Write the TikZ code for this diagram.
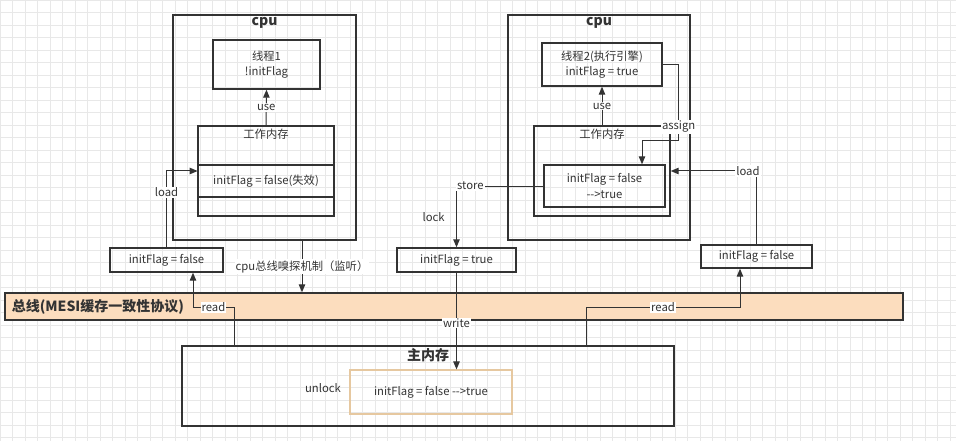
\documentclass[tikz,border=0pt]{standalone}
\usepackage{fontspec}
\setmainfont{Noto Sans CJK SC}
\usetikzlibrary{arrows.meta}
\definecolor{busfill}{HTML}{FCDDBE}
\definecolor{linegray}{HTML}{333333}
\definecolor{selborder}{HTML}{E6C8A0}

\begin{document}
\begin{tikzpicture}[x=1pt,y=-1pt,font=\fontsize{11.3}{15.5}\selectfont,text=linegray]

	\tikzstyle{box}=[draw=linegray,line width=1.4pt,rectangle,inner sep=2pt,align=center]
	\tikzstyle{lbl}=[fill=white,inner sep=1pt]
	\tikzstyle{link}=[draw=linegray,line width=1pt,-{Triangle[length=8pt,width=6.5pt]}]
	\tikzstyle{title}=[font=\fontsize{14}{16}\selectfont\bfseries]

	\useasboundingbox (0,0) rectangle (956,441);
	\fill[white] (0,0) rectangle (956,441);
	\draw[gray!18,line width=0.3pt,step=12.5pt] (0,0) grid (956,441);

	% cpu 1
	\node[box,minimum width=183pt,minimum height=225pt] (cpuL) at (264.5,127.5) {};
	\node[title,below] (cpuLtitle) at (cpuL.north) {cpu};
	\node[box,minimum width=107pt,minimum height=49pt] (thr1) at (266.5,64.5) {线程1\\!initFlag};
	\node[box,minimum width=136pt,minimum height=90pt] (wmL) at (266,171) {};
	\node[below] (wmLtitle) at (wmL.north) {工作内存};
	\node[box,line width=1.8pt,minimum width=135pt,minimum height=32pt] (vL) at (266,181) {initFlag = false(失效)};
	\node[box,minimum width=113pt,minimum height=24pt] (cacheL) at (166.5,260) {initFlag = false};

	% cpu 2
	\node[box,minimum width=182pt,minimum height=225pt] (cpuR) at (599,127.5) {};
	\node[title,below] (cpuRtitle) at (cpuR.north) {cpu};
	\node[box,minimum width=120pt,minimum height=43pt] (thr2) at (602,64.5) {线程2(执行引擎)\\initFlag = true};
	\node[box,minimum width=136pt,minimum height=90pt] (wmR) at (602,171) {};
	\node[below] (wmRtitle) at (wmR.north) {工作内存};
	\node[box,minimum width=121pt,minimum height=42pt] (vR) at (604.5,186) {initFlag = false\\-{}->true};
	\node[box,minimum width=119pt,minimum height=24pt] (cacheM) at (456.5,260) {initFlag = true};
	\node[box,minimum width=111pt,minimum height=23pt] (cacheR) at (756.5,256.5) {initFlag = false};

	% bus
	\node[box,fill=busfill,minimum width=898pt,minimum height=27pt] (bus) at (454,306.5) {};
	\node[title,anchor=west] (busTitle) at ([xshift=4pt]bus.west) {总线(MESI缓存一致性协议)};

	% main memory
	\node[box,minimum width=492pt,minimum height=80pt] (mem) at (428,386) {};
	\node[title,below] (memTitle) at (mem.north) {主内存};
	\node[box,draw=selborder,line width=1.2pt,minimum width=162pt,minimum height=44pt] (memV) at (431,392) {initFlag = false -{}->true};
	\node (unlock) at (323,388) {unlock};

	\draw[link] (wmL.north) -- (thr1.south) node[lbl,midway] {use};
	\draw[link] (wmR.north) -- (thr2.south) node[lbl,midway] {use};
	\draw[link] (cacheL.north) |- ([yshift=10pt]vL.west) node[lbl,pos=0.36] {load};
	\draw[link] ([xshift=37.5pt]cpuL.south) -- ([xshift=37.5pt]cpuL.south |- bus.north) node[lbl,midway] {cpu总线嗅探机制（监听）};
	\draw[link] ([xshift=-194pt]mem.north) -- ++(0,-38) -| ([xshift=26.5pt]cacheL.south) node[lbl,pos=0.25] {read};
	\draw[link] ([xshift=158pt]mem.north) -- ++(0,-38) -| ([xshift=-16.5pt]cacheR.south) node[lbl,pos=0.25] {read};
	\draw[link] (vR.west) -| (cacheM.north) node[lbl,pos=0.42] {store} node[pos=0.75,left=8pt] {lock};
	\draw[link] (cacheM.south) -- (cacheM.south |- memV.north) node[lbl,pos=0.52] {write};
	\draw[link] (cacheR.north) |- (wmR.east) node[lbl,pos=0.55] {load};
	\draw[link] (thr2.east) -- ++(16,0) -- ++(0,76) node[lbl,pos=0.82] {assign} -| ([xshift=37.5pt]vR.north);

\end{tikzpicture}
\end{document}
